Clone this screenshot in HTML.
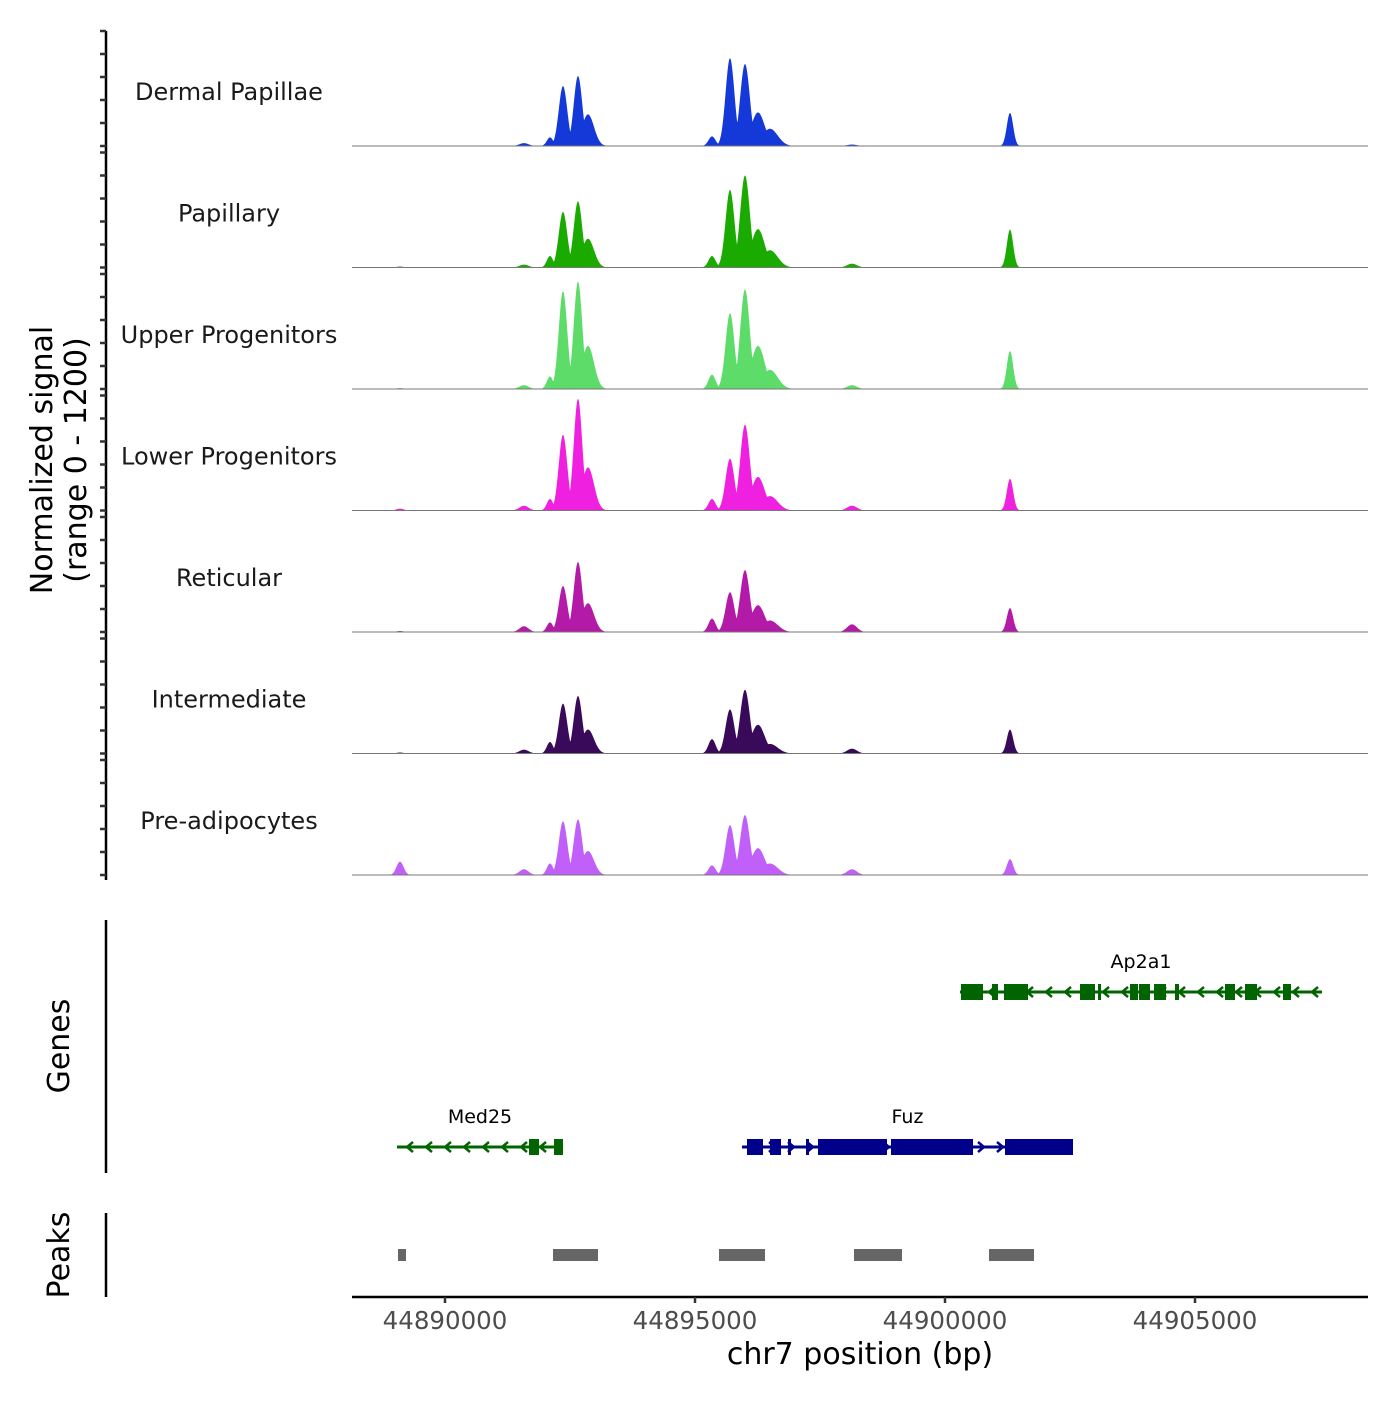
<!DOCTYPE html>
<html><head><meta charset="utf-8"><style>
html,body{margin:0;padding:0;background:#fff}
svg text{font-family:"DejaVu Sans","Liberation Sans",sans-serif}
</style></head><body>
<svg id="c" width="1400" height="1400" xmlns="http://www.w3.org/2000/svg"></svg>
<script>
// ---- data ----
const trackNames = ["Dermal Papillae","Papillary","Upper Progenitors","Lower Progenitors","Reticular","Intermediate","Pre-adipocytes"];
const trackColors = ["#1538d8","#1aaa00","#5ddc6a","#f020e0","#b31aa8","#3a0a5a","#c060f8"];
const peakPos   = [44892360,44892660,44895700,44896000,44901300,44892100,44892860,44895340,44896260,44896500,44889100,44898140,44891580];
const peakWidth = [120,120,125,135,90,90,170,100,190,220,100,140,130];
const sigDP  = [625,730,915,855,345,90,330,100,350,180,0,15,30];
const sigPap = [580,690,810,960,395,120,300,120,400,180,10,40,30];
const sigUP  = [1020,1120,790,1040,395,130,450,150,450,200,10,40,40];
const sigLP  = [790,1165,540,895,330,120,450,120,350,150,20,50,50];
const sigRet = [480,730,415,645,250,100,300,140,280,120,10,80,60];
const sigInt = [520,600,460,665,250,120,250,150,300,100,10,50,40];
const sigPre = [560,580,520,625,165,120,250,100,280,120,140,60,60];
const trackSignals = [sigDP,sigPap,sigUP,sigLP,sigRet,sigInt,sigPre];
const xTicks = [44890000,44895000,44900000,44905000];
const geneNames = ["Ap2a1","Med25","Fuz"];
const geneStart = [44900300,44889040,44895940];
const geneEnd   = [44907540,44892360,44902560];
const geneStrand= ["-","-","+"];
const geneRow   = [0,1,1];
const geneExons = [
 [[44900320,44900760],[44900940,44901060],[44901180,44901660],[44902700,44903000],[44903060,44903120],[44903700,44903860],[44903880,44904100],[44904180,44904420],[44904600,44904680],[44905600,44905800],[44906000,44906240],[44906760,44906920]],
 [[44891680,44891880],[44892180,44892360]],
 [[44896040,44896360],[44896500,44896720],[44896860,44896920],[44897220,44897280],[44897460,44898840],[44898920,44900560],[44901200,44902560]]
];
const peakStart = [44889060,44892160,44895480,44898180,44900880];
const peakEnd   = [44889220,44893060,44896400,44899140,44901780];

// ---- scales ----
const X0=352,X1=1368,BP0=44888140,BP1=44908460;
const xs = bp => X0 + (bp-BP0)/(BP1-BP0)*(X1-X0);
const trackTop = i => 31 + i*121.5;
const trackH = 115;
const ys = (i,v) => trackTop(i)+trackH - v/1200*trackH;
const svg=document.getElementById('c');
const NS="http://www.w3.org/2000/svg";
function mk(tag,attrs,parent){const e=document.createElementNS(NS,tag);for(const k in attrs)e.setAttribute(k,attrs[k]);(parent||svg).appendChild(e);return e;}

let ax=mk('line',{x1:106,y1:31,x2:106,y2:880,stroke:'#000','stroke-width':2.5});


for(let i=0;i<7;i++){
  for(let k=0;k<=5;k++){
    const y=trackTop(i)+k*23;
    const t=mk('line',{x1:100,y1:y,x2:106,y2:y,stroke:'#333','stroke-width':2.5});
    
    
  }
}
let yt=mk('text',{x:0,y:0,transform:'translate(52,460) rotate(-90)','text-anchor':'middle','font-size':30,fill:'#000'});
yt.textContent='Normalized signal';


let yt2=mk('text',{x:0,y:0,transform:'translate(86,460) rotate(-90)','text-anchor':'middle','font-size':30,fill:'#000'});
yt2.textContent='(range 0 - 1200)';



for(let i=0;i<7;i++){
  const sig=trackSignals[i];
  let d='M'+X0+' '+ys(i,0);
  for(let px=X0;px<=X1;px+=0.5){
    const bp=BP0+(px-X0)/(X1-X0)*(BP1-BP0);
    let v=0;
    for(let j=0;j<peakPos.length;j++){
      const z=(bp-peakPos[j])/peakWidth[j];
      const c=sig[j]*Math.exp(-z*z);
      if(c>v)v=c;
    }
    d+=' L'+px.toFixed(1)+' '+ys(i,v).toFixed(2);
  }
  d+=' L'+X1+' '+ys(i,0)+' Z';
  const p=mk('path',{d:d,fill:trackColors[i]});
  
  
  const b=mk('line',{x1:X0,y1:ys(i,0),x2:X1,y2:ys(i,0),stroke:'#777','stroke-width':1});
  
  
  const l=mk('text',{x:229,y:trackTop(i)+69,'text-anchor':'middle','font-size':24,fill:'#1a1a1a'});
  l.textContent=trackNames[i];
  
  
}

let ga=mk('line',{x1:106,y1:920,x2:106,y2:1173,stroke:'#000','stroke-width':2.5});


let gt=mk('text',{x:0,y:0,transform:'translate(69,1046) rotate(-90)','text-anchor':'middle','font-size':30,fill:'#000'});
gt.textContent='Genes';


const rowY=[992,1147];
for(let g=0;g<geneNames.length;g++){
  const col=geneStrand[g]=='+'?'#00008b':'#006400';
  const y=rowY[geneRow[g]];
  const a=xs(geneStart[g]),b=xs(geneEnd[g]);
  const ln=mk('line',{x1:a,y1:y,x2:b,y2:y,stroke:col,'stroke-width':3});
  
  
  for(let x=a+12;x<b-4;x+=19){
    const dir=geneStrand[g]=='+'?1:-1;
    const ch=mk('polyline',{points:`${x-4*dir},${y-5} ${x+2*dir},${y} ${x-4*dir},${y+5}`,fill:'none',stroke:col,'stroke-width':2.5});
    
    
  }
  for(const ex of geneExons[g]){
    const r=mk('rect',{x:xs(ex[0]),y:y-8,width:Math.max(3,xs(ex[1])-xs(ex[0])),height:16,fill:col});
    
    
  }
  const t=mk('text',{x:(a+b)/2,y:y-24,'text-anchor':'middle','font-size':19,fill:'#000'});
  t.textContent=geneNames[g];
  
  
}

let pa=mk('line',{x1:106,y1:1213,x2:106,y2:1297,stroke:'#000','stroke-width':2.5});


let pt=mk('text',{x:0,y:0,transform:'translate(69,1255) rotate(-90)','text-anchor':'middle','font-size':30,fill:'#000'});
pt.textContent='Peaks';


for(let i=0;i<peakStart.length;i++){
  const r=mk('rect',{x:xs(peakStart[i]),y:1249,width:xs(peakEnd[i])-xs(peakStart[i]),height:12,fill:'#666'});
  
  
}

let xa=mk('line',{x1:X0,y1:1297,x2:X1,y2:1297,stroke:'#000','stroke-width':2.5});


for(const t of xTicks){
  const x=xs(t);
  const tk=mk('line',{x1:x,y1:1297,x2:x,y2:1303,stroke:'#333','stroke-width':2.5});
  
  
  const tl=mk('text',{x:x,y:1329,'text-anchor':'middle','font-size':24.5,fill:'#4d4d4d'});
  tl.textContent=String(t);
  
  
}
let xt=mk('text',{x:860,y:1364,'text-anchor':'middle','font-size':30,fill:'#000'});
xt.textContent='chr7 position (bp)';


</script>
</body></html>
